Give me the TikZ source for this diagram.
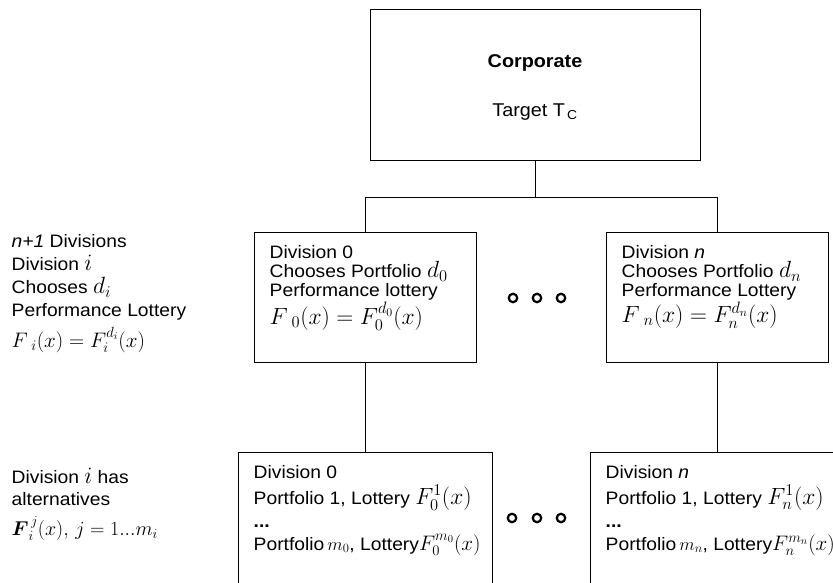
\RequirePackage{fix-cm}
\documentclass[tikz,border=0pt]{standalone}
\usepackage{fontspec}
\setmainfont{Liberation Sans}[FakeStretch=1.07]
\usepackage{amsmath}
\usetikzlibrary{positioning}
\newcommand{\mth}[1]{{\fontsize{23.5}{19}\selectfont$#1$}}
\newcommand{\smth}[1]{{\fontsize{21}{19}\selectfont$#1$}}

\begin{document}
\begin{tikzpicture}[x=1pt,y=-1pt,line width=1.4pt,
    box/.style={draw,anchor=north west,inner sep=0pt},
    txt/.style={anchor=north west,align=left,inner sep=0pt,font=\fontsize{18}{19}\selectfont},
    ring/.style={circle,draw,line width=2.2pt,minimum size=8.5pt,inner sep=0pt}]
    \useasboundingbox (0,0) rectangle (833,583);
    \clip (0,0) rectangle (833,583);
    % boxes
    \node[box,minimum width=330pt,minimum height=151pt] (corp) at (370,9) {};
    \node[box,minimum width=222pt,minimum height=130pt] (div0) at (254,232) {};
    \node[box,minimum width=222pt,minimum height=130pt] (divn) at (606,232) {};
    \node[box,minimum width=254pt,minimum height=131pt] (alt0) at (238,452) {};
    \node[box,minimum width=254pt,minimum height=131pt] (altn) at (590,452) {};
    % corporate
    \node[anchor=base,inner sep=0pt,font=\bfseries\fontsize{18.5}{20}\selectfont] (corptitle) at (535,68) {Corporate};
    \node[anchor=base,inner sep=0pt,font=\fontsize{18.5}{20}\selectfont] (target) at (535,117) {Target T\textsubscript{\,C}};
    % divisions
    \node[txt] (div0txt) at ([shift={(15,13)}]div0.north west)
        {Division 0\\ Chooses Portfolio \mth{d_0}\\ Performance lottery\\[1pt] \mth{F\,{}_0(x)=F_0^{d_0}(x)}};
    \node[txt] (divntxt) at ([shift={(15,13)}]divn.north west)
        {Division \textit{n}\\ Chooses Portfolio \mth{d_n}\\ Performance Lottery\\[1pt] \mth{F\,{}_n(x)=F_n^{d_n}(x)}};
    \node[txt] (alt0txt) at ([shift={(15,13)}]alt0.north west)
        {Division 0\\[5pt] Portfolio 1, Lottery~\mth{F_0^1(x)}\\[4pt] \textbf{...}\\[4pt] Portfolio\,$m_0$, Lottery\smth{F_0^{m_0}(x)}};
    \node[txt] (altntxt) at ([shift={(15,13)}]altn.north west)
        {Division \textit{n}\\[5pt] Portfolio 1, Lottery~\mth{F_n^1(x)}\\[4pt] \textbf{...}\\[4pt] Portfolio\,$m_n$, Lottery\smth{F_n^{m_n}(x)}};
    % left notes
    \node[txt,font=\fontsize{18}{23}\selectfont] (leftup) at (11,234)
        {\textit{n+1} Divisions\\ Division \mth{i}\\ Chooses \mth{d_i}\\ Performance Lottery\\[6pt] \smth{F\,{}_i(x)=F_i^{d_i}(x)}};
    \node[txt,font=\fontsize{18}{22}\selectfont] (leftlow) at (11,467)
        {Division \mth{i} has\\ alternatives\\[8pt] {\fontsize{20}{19}\selectfont$\boldsymbol{F}_i^{\,j}(x),\, j=1...m_i$}};
    % dots
    \foreach \x [count=\k] in {513,537,561} \node[ring] (topdot\k) at (\x,298) {};
    \foreach \x [count=\k] in {512,537,561} \node[ring] (lowdot\k) at (\x,518) {};
    % tree lines
    \draw (corp.south) -- ++(0,36) coordinate (fork);
    \draw (div0.north) |- (fork) -| (divn.north);
    \draw (div0.south) -- (alt0.north);
    \draw (divn.south) -- (altn.north);
\end{tikzpicture}
\end{document}
